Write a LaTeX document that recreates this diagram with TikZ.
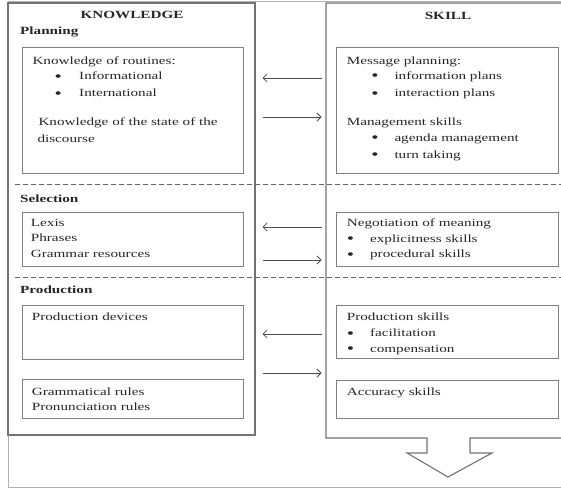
\documentclass[tikz,border=0pt]{standalone}
\usepackage{fontspec}
\setmainfont{Liberation Serif}[FakeStretch=1.38]
\usetikzlibrary{arrows.meta}
\newcommand{\bitem}[3]{\hspace*{#1}\makebox[#2][l]{\raisebox{-1.3pt}{\fontsize{15}{14}\selectfont\textbullet}}#3}

\begin{document}
\begin{tikzpicture}[x=1pt,y=-1pt,
  big/.style={draw=black!55,line width=1.1pt,outer sep=0pt},
  box/.style={draw=black!50,line width=0.9pt,minimum width=221pt,outer sep=0pt},
  txt/.style={anchor=north west,align=left,inner sep=0pt,font=\fontsize{11}{14.5}\selectfont,text=black!85},
  head/.style={anchor=base,inner sep=0pt,font=\fontsize{11}{14.5}\selectfont\bfseries,text=black!85},
  sep/.style={draw=black!60,line width=0.9pt,dash pattern=on 5pt off 3pt},
  arr/.style={draw=black!70,line width=0.8pt,shorten <=7.5pt,shorten >=4.5pt,
    >={Straight Barb[length=4pt,width=8pt]}}]
\useasboundingbox (0,0) rectangle (561,489);
\clip (0,0) rectangle (561,489);
\draw[black!30,line width=0.8pt] (8,1) rectangle (565,487);

\node[big,minimum width=247pt,minimum height=432pt] (know) at (131.5,219) {};
\node[outer sep=0pt,minimum width=240pt,minimum height=435pt] (skill) at (446,220.5) {};
\draw[big] (skill.north east) -- (skill.north west) -- (skill.south west) -- (427,438) -- (427,453)
  -- (407,453) -- (448,477) -- (492,453) -- (470,453) -- (470,438) -- (skill.south east);

\draw[sep] (15,184) -- (565,184);
\draw[sep] (15,277) -- (565,277);

\node[head] (kHead) at (132,19) {KNOWLEDGE};
\node[head] (sHead) at (448,19.5) {SKILL};
\node[head,anchor=base west] (plan) at (20,34.5) {Planning};
\node[head,anchor=base west] (sel) at (20,202) {Selection};
\node[head,anchor=base west] (prod) at (20,293) {Production};

\node[box,minimum height=126pt] (kPlan) at (132.5,110) {};
\node[box,minimum height=54pt] (kSel) at (132.5,239) {};
\node[box,minimum height=54pt] (kDev) at (132.5,332) {};
\node[box,minimum height=39pt] (kRule) at (132.5,398.5) {};
\node[box,minimum width=222pt,minimum height=126pt] (sPlan) at (447,110) {};
\node[box,minimum width=222pt,minimum height=54pt] (sNeg) at (447,239) {};
\node[box,minimum width=222pt,minimum height=53pt] (sProd) at (447,331.5) {};
\node[box,minimum width=222pt,minimum height=38pt] (sAcc) at (447,399) {};

\node[txt] (kPlanTxt) at (32.3,57) {Knowledge of routines:\\[0.5pt]
  \bitem{22.2pt}{24.5pt}{Informational}\\[2.5pt]
  \bitem{22.2pt}{24.5pt}{International}\\[14pt]
  \hspace*{6pt}Knowledge of the state of the\\[2.5pt]
  \hspace*{5pt}discourse};
\node[txt] (sPlanTxt) at (346.7,57) {Message planning:\\
  \bitem{24.5pt}{23.1pt}{information plans}\\[3pt]
  \bitem{24.5pt}{23.1pt}{interaction plans}\\[14pt]
  Management skills\\[1.5pt]
  \bitem{24.5pt}{23.1pt}{agenda management}\\[2.5pt]
  \bitem{24.5pt}{23.1pt}{turn taking}};
\node[txt] (kSelTxt) at (30.7,219) {Lexis\\[1pt] Phrases\\[1pt] Grammar resources};
\node[txt] (sNegTxt) at (346.7,219) {Negotiation of meaning\\[1pt]
  \bitem{0pt}{23.2pt}{explicitness skills}\\[1pt]
  \bitem{0pt}{23.2pt}{procedural skills}};
\node[txt] (kDevTxt) at (31.7,313) {Production devices};
\node[txt] (sProdTxt) at (346.7,313) {Production skills\\[1.5pt]
  \bitem{0pt}{23.2pt}{facilitation}\\[1pt]
  \bitem{0pt}{23.2pt}{compensation}};
\node[txt] (kRuleTxt) at (31.7,387.5) {Grammatical rules\\[0.5pt] Pronunciation rules};
\node[txt] (sAccTxt) at (346.7,387.5) {Accuracy skills};

\foreach \y/\d in {78/<-,117/->,227/<-,260/->,334/<-,373/->}
  \draw[arr,\d] (know.east |- 0,\y) -- (skill.west |- 0,\y);
\end{tikzpicture}
\end{document}
